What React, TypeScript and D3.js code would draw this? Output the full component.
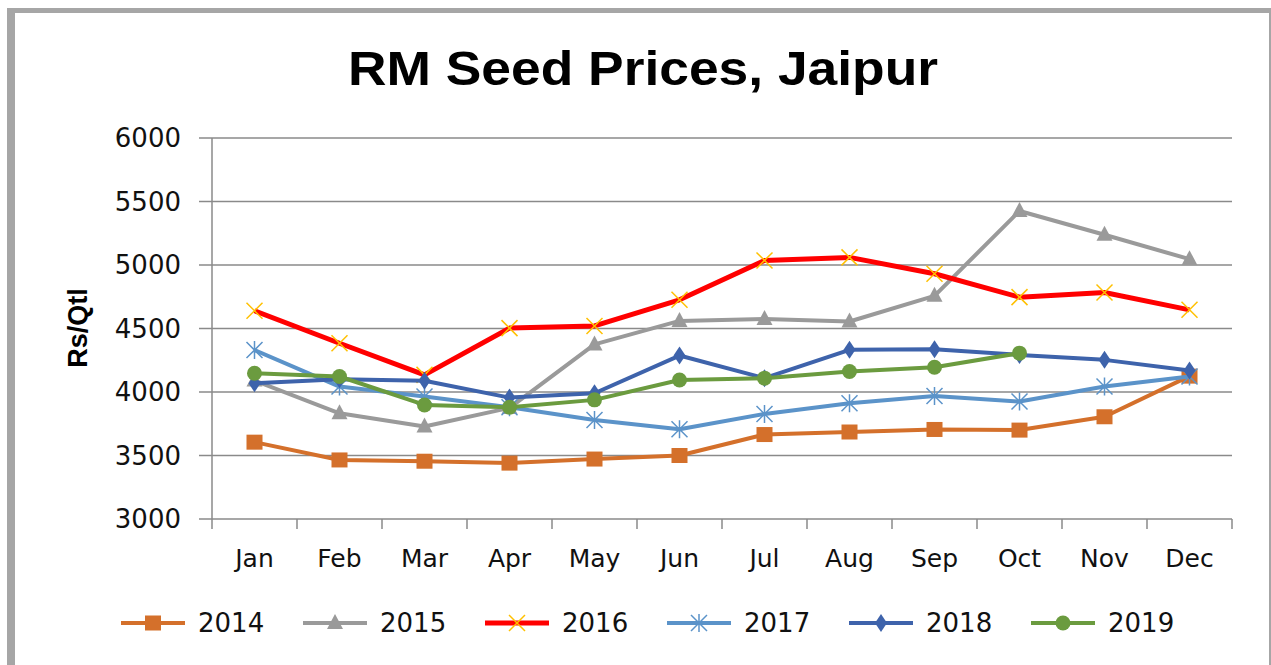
import React from "react";
import * as d3 from "d3";

const months = ["Jan", "Feb", "Mar", "Apr", "May", "Jun", "Jul", "Aug", "Sep", "Oct", "Nov", "Dec"];
const yTicks = [3000, 3500, 4000, 4500, 5000, 5500, 6000];

const s2014 = [3605, 3465, 3455, 3440, 3472, 3500, 3665, 3685, 3705, 3700, 3805, 4125];
const s2015 = [4090, 3832, 3728, 3875, 4375, 4560, 4575, 4555, 4757, 5425, 5238, 5046];
const s2016 = [4640, 4384, 4135, 4503, 4520, 4726, 5036, 5060, 4931, 4747, 4784, 4647];
const s2017 = [4330, 4043, 3964, 3880, 3780, 3707, 3827, 3912, 3969, 3925, 4043, 4122];
const s2018 = [4069, 4101, 4088, 3956, 3990, 4287, 4109, 4332, 4337, 4292, 4253, 4169];
const s2019: (number | null)[] = [4148, 4122, 3898, 3880, 3938, 4095, 4109, 4161, 4195, 4306, null, null];

type Series = { name: string; values: (number | null)[]; color: string; marker: string; mcolor: string; width: number };

const series: Series[] = [
  { name: "2014", values: s2014, color: "#d4702b", marker: "square", mcolor: "#d4702b", width: 4 },
  { name: "2015", values: s2015, color: "#9a9a9a", marker: "triangle", mcolor: "#9a9a9a", width: 4 },
  { name: "2016", values: s2016, color: "#ff0000", marker: "x", mcolor: "#ffc000", width: 5 },
  { name: "2017", values: s2017, color: "#5b93c9", marker: "star", mcolor: "#5b93c9", width: 4 },
  { name: "2018", values: s2018, color: "#3e63ab", marker: "diamond", mcolor: "#3e63ab", width: 4 },
  { name: "2019", values: s2019, color: "#6b9b3f", marker: "circle", mcolor: "#6b9b3f", width: 4 },
];

function Marker({ type, x, y, color }: { type: string; x: number; y: number; color: string }) {
  switch (type) {
    case "square":
      return <rect x={x - 8} y={y - 7.5} width={16} height={15} fill={color} />;
    case "triangle":
      return <path d={`M${x},${y - 9} L${x + 8},${y + 6} L${x - 8},${y + 6} Z`} fill={color} />;
    case "x":
      return (
        <path
          d={`M${x - 8},${y - 8} L${x + 8},${y + 8} M${x - 8},${y + 8} L${x + 8},${y - 8}`}
          stroke={color}
          strokeWidth={1.5}
          fill="none"
        />
      );
    case "star":
      return (
        <path
          d={`M${x - 8},${y - 8} L${x + 8},${y + 8} M${x - 8},${y + 8} L${x + 8},${y - 8} M${x},${y - 9} L${x},${y + 9}`}
          stroke={color}
          strokeWidth={1.5}
          fill="none"
        />
      );
    case "diamond":
      return <path d={`M${x},${y - 9} L${x + 6},${y} L${x},${y + 9} L${x - 6},${y} Z`} fill={color} />;
    case "circle":
      return <circle cx={x} cy={y} r={7.5} fill={color} />;
  }
  return null;
}

export default function App() {
  const W = 1271;
  const H = 665;
  const left = 212;
  const right = 1232;
  const top = 138;
  const bottom = 519;

  const x = d3.scaleBand<string>().domain(months).range([left, right]).padding(0);
  const cx = (m: string) => (x(m) as number) + x.bandwidth() / 2;
  const y = d3.scaleLinear().domain([3000, 6000]).range([bottom, top]);

  const line = d3
    .line<number | null>()
    .defined((d) => d !== null)
    .x((_, i) => cx(months[i]))
    .y((d) => y(d as number));

  const font = "'DejaVu Sans', sans-serif";
  const gridColor = "#8a8a8a";

  return (
    <svg
      width={W}
      height={H}
      style={{ position: "absolute", left: 0, top: 0, background: "#fff" }}
    >
      <rect x={0} y={0} width={W} height={H} fill="#ffffff" />
      {/* frame */}
      <rect x={7} y={8} width={8} height={H} fill="#a6a6a6" />
      <rect x={7} y={8} width={W - 7} height={5} fill="#a6a6a6" />
      <rect x={1269} y={8} width={2} height={H} fill="#a6a6a6" />

      {/* title */}
      <text
        x={643}
        y={85}
        textAnchor="middle"
        fontFamily="'Liberation Sans', Arial, sans-serif"
        fontWeight="bold"
        fontSize={48}
        textLength={590}
        lengthAdjust="spacingAndGlyphs"
        fill="#000"
      >
        RM Seed Prices, Jaipur
      </text>

      {/* gridlines + y ticks */}
      {yTicks.map((t) => (
        <g key={t}>
          <line x1={199} x2={right} y1={y(t)} y2={y(t)} stroke={gridColor} strokeWidth={1.5} />
          <text
            x={181}
            y={y(t)}
            dy="0.36em"
            textAnchor="end"
            fontFamily={font}
            fontSize={26}
            fill="#111"
          >
            {t}
          </text>
        </g>
      ))}

      {/* y axis */}
      <line x1={left} x2={left} y1={top} y2={bottom} stroke={gridColor} strokeWidth={1.5} />
      {/* x axis ticks */}
      {d3.range(months.length + 1).map((i) => {
        const xx = left + i * x.bandwidth();
        return <line key={i} x1={xx} x2={xx} y1={bottom} y2={bottom + 10} stroke={gridColor} strokeWidth={1.5} />;
      })}
      {months.map((m) => (
        <text key={m} x={cx(m)} y={567} textAnchor="middle" fontFamily={font} fontSize={25} fill="#111">
          {m}
        </text>
      ))}

      {/* y-axis title */}
      <text
        transform={`translate(87,328) rotate(-90)`}
        textAnchor="middle"
        fontFamily="'Liberation Sans', Arial, sans-serif"
        fontWeight="bold"
        fontSize={27}
        fill="#000"
      >
        Rs/Qtl
      </text>

      {/* series */}
      {series.map((s) => (
        <g key={s.name}>
          <path d={line(s.values) || ""} fill="none" stroke={s.color} strokeWidth={s.width} strokeLinejoin="round" />
          {s.values.map((v, i) =>
            v === null ? null : <Marker key={i} type={s.marker} x={cx(months[i])} y={y(v)} color={s.mcolor} />
          )}
        </g>
      ))}

      {/* legend */}
      {series.map((s, i) => {
        const mx = 153 + i * 182;
        const my = 623;
        return (
          <g key={s.name}>
            <line x1={mx - 32} x2={mx + 32} y1={my} y2={my} stroke={s.color} strokeWidth={s.width} />
            <Marker type={s.marker} x={mx} y={my} color={s.mcolor} />
            <text x={mx + 45} y={my} dy="0.36em" fontFamily={font} fontSize={26} fill="#111">
              {s.name}
            </text>
          </g>
        );
      })}
    </svg>
  );
}
